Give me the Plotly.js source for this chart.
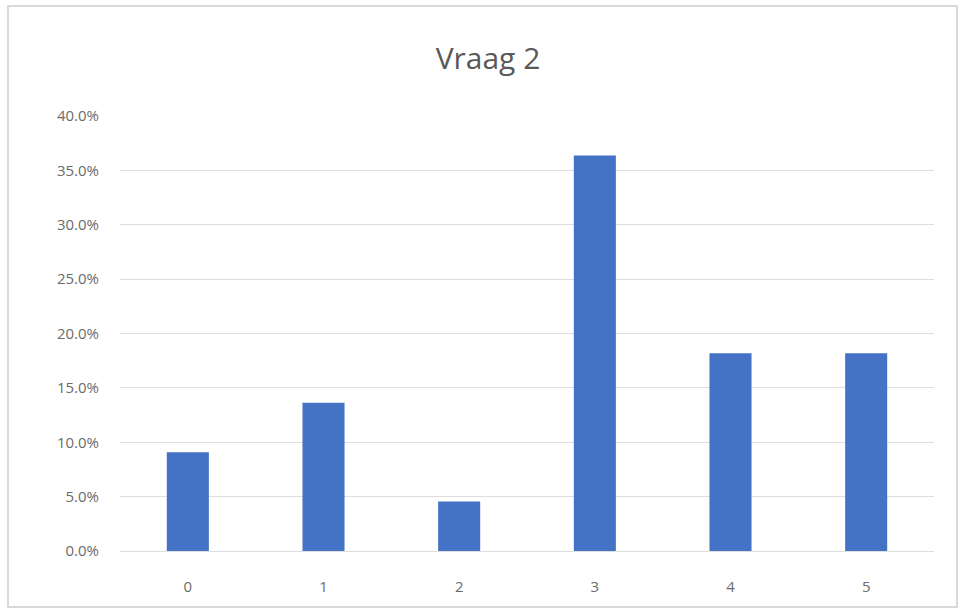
<!DOCTYPE html>
<html>
<head>
<meta charset="utf-8">
<script src="https://cdn.plot.ly/plotly-3.0.1.min.js"></script>
<style>
  html, body { margin: 0; padding: 0; background: #ffffff; }
  #chart { width: 958px; height: 613px; }
</style>
</head>
<body>
<div id="chart"></div>
<script>
// Answer categories and the share of respondents for each
const categories = ['0', '1', '2', '3', '4', '5'];
const shares = [0.0909, 0.1364, 0.0455, 0.3636, 0.1818, 0.1818];
const yTicks = [0, 0.05, 0.10, 0.15, 0.20, 0.25, 0.30, 0.35, 0.40];
const chartTitle = 'Vraag 2';

const textGrey = '#6b6b6b';
const gridGrey = '#dedede';

const trace = {
  type: 'bar',
  x: categories,
  y: shares,
  marker: { color: '#4472C4' },
  width: 0.31,
  hoverinfo: 'x+y'
};

const layout = {
  width: 958,
  height: 613,
  margin: { l: 120, r: 24, t: 116, b: 62 },
  paper_bgcolor: '#ffffff',
  plot_bgcolor: '#ffffff',
  font: { family: 'Open Sans, Liberation Sans, sans-serif', color: textGrey },
  title: {
    text: chartTitle,
    x: 488 / 958,
    xref: 'container',
    xanchor: 'center',
    y: 1 - 58 / 613,
    yref: 'container',
    yanchor: 'middle',
    font: { size: 30, color: '#595959', family: 'Open Sans, Liberation Sans, sans-serif' }
  },
  xaxis: {
    type: 'category',
    showgrid: false,
    zeroline: false,
    showline: true,
    linecolor: gridGrey,
    linewidth: 1,
    ticks: '',
    ticklabelstandoff: 22,
    tickfont: { size: 15, color: textGrey }
  },
  yaxis: {
    range: [0, 0.4],
    tickvals: yTicks,
    tickformat: '.1%',
    showgrid: true,
    gridcolor: gridGrey,
    gridwidth: 1,
    zeroline: false,
    showline: false,
    ticks: '',
    ticklabelstandoff: 20,
    tickfont: { size: 15, color: textGrey }
  },
  shapes: [
    {
      // chart frame
      type: 'rect',
      xref: 'paper', yref: 'paper',
      x0: (8 - 120) / 814, x1: (957 - 120) / 814,
      y0: (551 - 607) / 435, y1: (551 - 6) / 435,
      line: { color: '#d9d9d9', width: 2 },
      fillcolor: 'rgba(0,0,0,0)',
      layer: 'below'
    }
  ],
  showlegend: false,
  bargap: 0.69
};

Plotly.newPlot('chart', [trace], layout, { displayModeBar: false, staticPlot: true });
</script>
</body>
</html>
